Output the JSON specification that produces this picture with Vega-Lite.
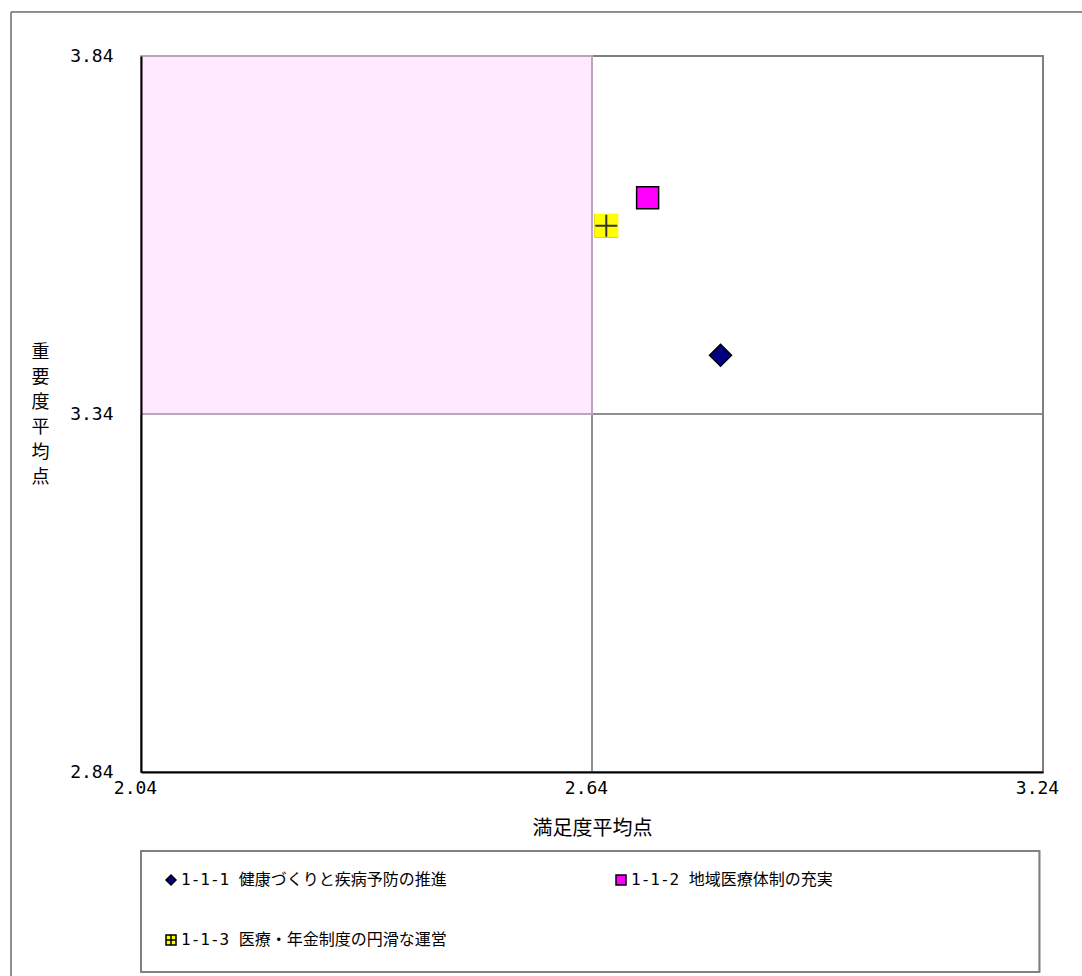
{
  "$schema": "https://vega.github.io/schema/vega-lite/v6.json",
  "autosize": {"type": "none"},
  "width": 902,
  "height": 716,
  "padding": {"left": 141, "top": 56, "right": 39, "bottom": 204},
  "background": "white",
  "config": {
    "view": {"stroke": "#808080", "strokeWidth": 2},
    "font": "Noto Sans CJK JP"
  },
  "data": {
    "values": [
      {"series": "1-1-1 健康づくりと疾病予防の推進", "satisfaction": 2.811, "importance": 3.422},
      {"series": "1-1-2 地域医療体制の充実", "satisfaction": 2.714, "importance": 3.642},
      {"series": "1-1-3 医療・年金制度の円滑な運営", "satisfaction": 2.659, "importance": 3.603}
    ]
  },
  "encoding": {
    "x": {
      "field": "satisfaction", "type": "quantitative",
      "scale": {"domain": [2.04, 3.24], "nice": false, "zero": false},
      "axis": {
        "values": [2.04, 2.64, 3.24], "format": ".2f", "grid": false, "ticks": false, "labelFlush": false,
        "labelFont": "DejaVu Sans Mono", "labelFontSize": 18, "labelColor": "black", "labelPadding": 7,
        "labelAlign": "center", "labelOffset": -6,
        "domainColor": "black", "domainWidth": 2, "zindex": 1,
        "title": "満足度平均点", "titleFont": "Noto Sans CJK JP", "titleFontSize": 20, "titleFontWeight": "normal",
        "titleColor": "black", "titlePadding": 21
      }
    },
    "y": {
      "field": "importance", "type": "quantitative",
      "scale": {"domain": [2.84, 3.84], "nice": false, "zero": false},
      "axis": {
        "values": [2.84, 3.34, 3.84], "format": ".2f", "grid": false, "ticks": false, "labelFlush": false,
        "labelFont": "DejaVu Sans Mono", "labelFontSize": 18, "labelColor": "black", "labelPadding": 28,
        "domainColor": "black", "domainWidth": 2, "zindex": 1,
        "title": ["重", "要", "度", "平", "均", "点"], "titleFont": "Noto Sans CJK JP", "titleFontSize": 18,
        "titleFontWeight": "normal", "titleColor": "black", "titleAngle": 0, "titleLineHeight": 25,
        "titleX": -101, "titleY": 296, "titleAlign": "center", "titleBaseline": "middle"
      }
    }
  },
  "layer": [
    {
      "mark": {"type": "rect", "filled": false, "stroke": "#808080", "strokeWidth": 1, "clip": false},
      "encoding": {
        "x": {"datum": 1.8671}, "x2": {"datum": 3.31},
        "y": {"datum": 3.9015}, "y2": {"datum": 2.54}
      }
    },
    {
      "mark": {"type": "rect", "filled": false, "stroke": "#808080", "strokeWidth": 1.5, "clip": false},
      "encoding": {
        "x": {"datum": 2.04}, "x2": {"datum": 3.2353},
        "y": {"datum": 2.7297}, "y2": {"datum": 2.5607}
      }
    },
    {
      "mark": {"type": "rule", "color": "#808080", "strokeWidth": 1},
      "encoding": {"x": {"datum": 2.64}, "y": {"datum": 2.84}, "y2": {"datum": 3.84}}
    },
    {
      "mark": {"type": "rule", "color": "#808080", "strokeWidth": 1},
      "encoding": {"x": {"datum": 2.04}, "x2": {"datum": 3.24}, "y": {"datum": 3.34}}
    },
    {
      "mark": {"type": "rect", "fill": "#FFE9FF", "stroke": "#BCA4BC", "strokeWidth": 2},
      "encoding": {
        "x": {"datum": 2.04}, "x2": {"datum": 2.64},
        "y": {"datum": 3.34}, "y2": {"datum": 3.84}
      }
    },
    {
      "mark": {"type": "point", "filled": true, "size": 484, "stroke": "black", "strokeWidth": 1.5, "opacity": 1},
      "encoding": {
        "shape": {
          "field": "series", "type": "nominal",
          "scale": {
            "domain": ["1-1-1 健康づくりと疾病予防の推進", "1-1-3 医療・年金制度の円滑な運営", "1-1-2 地域医療体制の充実"],
            "range": ["diamond", "M-1,-1H1V1H-1Z M-1,0H1 M0,-1V1", "square"]
          },
          "legend": {
            "title": null, "orient": "none", "legendX": 22, "legendY": 816, "columns": 2,
            "columnPadding": 166, "rowPadding": 44, "symbolSize": 100, "labelOffset": 2,
            "labelFont": "DejaVu Sans Mono, Noto Sans CJK JP", "labelFontSize": 16, "labelColor": "black",
            "labelLimit": 600, "padding": 0,
            "encode": {"symbols": {"update": {"stroke": {"value": "black"}, "strokeWidth": {"value": 1}}}}
          }
        },
        "fill": {
          "field": "series", "type": "nominal",
          "scale": {
            "domain": ["1-1-1 健康づくりと疾病予防の推進", "1-1-3 医療・年金制度の円滑な運営", "1-1-2 地域医療体制の充実"],
            "range": ["#000080", "#FFFF00", "#FF00FF"]
          },
          "legend": {
            "title": null, "orient": "none", "legendX": 22, "legendY": 816, "columns": 2,
            "columnPadding": 166, "rowPadding": 44, "symbolSize": 100, "labelOffset": 2,
            "labelFont": "DejaVu Sans Mono, Noto Sans CJK JP", "labelFontSize": 16, "labelColor": "black",
            "labelLimit": 600, "padding": 0,
            "encode": {"symbols": {"update": {"stroke": {"value": "black"}, "strokeWidth": {"value": 1}}}}
          }
        }
      }
    },
    {
      "transform": [{"filter": "datum.series === '1-1-3 医療・年金制度の円滑な運営'"}],
      "mark": {"type": "point", "filled": true, "shape": "square", "size": 576, "fill": "#FFFF00", "strokeWidth": 0, "opacity": 1}
    },
    {
      "transform": [{"filter": "datum.series === '1-1-3 医療・年金制度の円滑な運営'"}],
      "mark": {"type": "point", "filled": false, "shape": "M-1,0H1M0,-1V1", "size": 484, "stroke": "#333333", "strokeWidth": 2, "opacity": 1}
    }
  ]
}
